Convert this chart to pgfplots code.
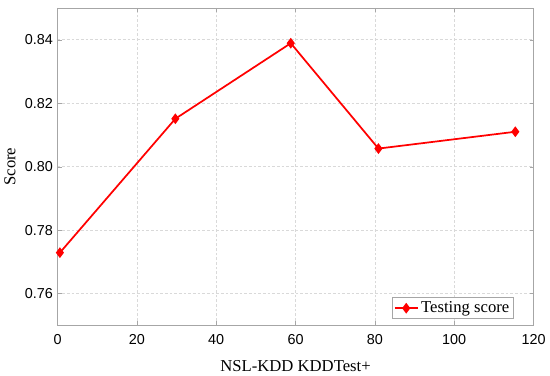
\documentclass[border=0pt]{standalone}
\usepackage{fontspec}
\setmainfont{Liberation Serif}
\newfontfamily\ticksans{Liberation Sans}
\usepackage{pgfplots}
\pgfplotsset{compat=1.18}

\begin{document}
\begin{tikzpicture}
\begin{axis}[
  name=ax,
  scale only axis,
  width=357pt, height=238pt,
  xmin=0, xmax=120, ymin=0.75, ymax=0.85,
  xtick={0,20,...,120},
  ytick={0.76,0.78,0.80,0.82,0.84},
  yticklabel style={/pgf/number format/fixed,/pgf/number format/fixed zerofill,/pgf/number format/precision=2},
  xticklabel style={yshift=-3pt},
  /pgf/number format/assume math mode=true,
  ticklabel style={font=\ticksans\fontsize{10.8}{12}\selectfont},
  xlabel={NSL-KDD KDDTest+},
  ylabel={Score},
  xlabel style={yshift=-5pt},
  label style={font=\fontsize{12.5}{14}\selectfont},
  axis line style={gray!70},
  tick style={gray!70},
  tick align=inside,
  major tick length=3pt,
  grid=major,
  grid style={dash pattern=on 2pt off 1.5pt,gray!30},
  legend style={at={(0.958,0.02)}, anchor=south east, font=\fontsize{12.5}{14}\selectfont, draw=gray!70, inner sep=1pt},
  legend cell align=left,
  legend image post style={line width=1.3pt},
]
\addplot[red, line width=1.3pt, mark=diamond*, mark size=3pt] coordinates {
  (0.6,0.7729)(29.7,0.8151)(58.8,0.8389)(80.9,0.8057)(115.4,0.8110)
};
\addlegendentry{Testing score}
\end{axis}
\path ([yshift=6pt]ax.north);
\end{tikzpicture}
\end{document}
